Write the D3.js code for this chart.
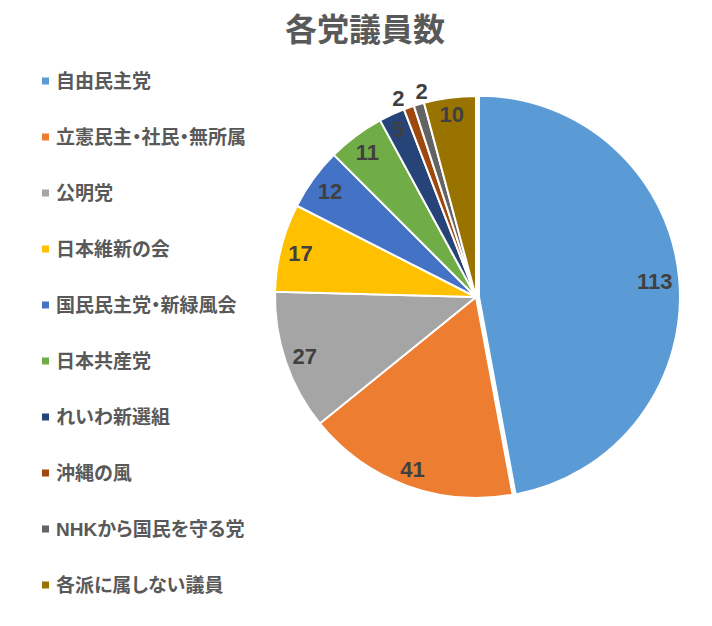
<!DOCTYPE html>
<html>
<head>
<meta charset="utf-8">
<script src="https://cdn.jsdelivr.net/npm/d3@7/dist/d3.min.js"></script>
<style>
  html, body { margin: 0; padding: 0; background: #fff; }
  svg { display: block; }
  .jp { font-family: "Liberation Sans", "Noto Sans CJK JP", sans-serif; font-weight: bold; font-feature-settings: "palt"; }
</style>
</head>
<body>
<svg id="chart" width="712" height="626"></svg>
<script>
const title = "各党議員数";
const parties = ["自由民主党", "立憲民主・社民・無所属", "公明党", "日本維新の会", "国民民主党・新緑風会",
                 "日本共産党", "れいわ新選組", "沖縄の風", "NHKから国民を守る党", "各派に属しない議員"];
const seats = [113, 41, 27, 17, 12, 11, 5, 2, 2, 10];
const colors = ["#5B9BD5", "#ED7D31", "#A5A5A5", "#FFC000", "#4472C4",
                "#70AD47", "#264478", "#9E480E", "#636363", "#997300"];
const outsideLabels = [false, false, false, false, false, false, false, true, true, false];
const explode = [3, 0, 0, 0, 0, 0, 0, 0, 0, 0];

const svg = d3.select("#chart");

// Title
svg.append("text")
  .attr("class", "jp")
  .attr("x", 365).attr("y", 30)
  .attr("text-anchor", "middle")
  .attr("dominant-baseline", "central")
  .attr("font-size", 32)
  .attr("fill", "#595959")
  .text(title);

// Legend
const legendY = d3.scalePoint().domain(d3.range(parties.length)).range([81, 585]);
const lg = svg.append("g");
const items = lg.selectAll("g").data(parties).join("g")
  .attr("transform", (d, i) => `translate(0,${legendY(i)})`);
items.append("rect")
  .attr("x", 42).attr("y", -3.5).attr("width", 7).attr("height", 7)
  .attr("fill", (d, i) => colors[i]);
items.append("text")
  .attr("class", "jp")
  .attr("x", 56).attr("y", 0)
  .attr("dominant-baseline", "central")
  .attr("font-size", 19)
  .attr("fill", "#595959")
  .text(d => d);

// Pie
const cx = 476, cy = 297, r = 201;
const pie = d3.pie().sort(null).value(d => d).startAngle(0).endAngle(2 * Math.PI);
const arcs = pie(seats);
const arc = d3.arc().innerRadius(0).outerRadius(r);
const g = svg.append("g").attr("transform", `translate(${cx},${cy})`);

arcs.forEach((a, i) => {
  const mid = (a.startAngle + a.endAngle) / 2;
  const ox = Math.sin(mid) * explode[i], oy = -Math.cos(mid) * explode[i];
  g.append("path")
    .attr("transform", `translate(${ox},${oy})`)
    .attr("d", arc(a))
    .attr("fill", colors[i])
    .attr("stroke", "#fff")
    .attr("stroke-width", 2)
    .attr("stroke-linejoin", "round");
});

// Labels
const placed = [];
arcs.forEach((a, i) => {
  const mid = (a.startAngle + a.endAngle) / 2;
  const s = Math.sin(mid), c = Math.cos(mid);
  const t = g.append("text")
    .attr("font-family", "'Liberation Sans', Arial, sans-serif")
    .attr("font-weight", "bold")
    .attr("font-size", 22)
    .attr("fill", "#404040")
    .attr("text-anchor", "middle")
    .attr("dominant-baseline", "central")
    .text(seats[i]);
  const w = t.node().getComputedTextLength();
  const h = 16;
  const extent = Math.abs(s) * w / 2 + Math.abs(c) * h / 2;
  const d = outsideLabels[i] ? r + 3 + extent : r - 6 - extent + explode[i];
  placed.push({ t, x: s * d, y: -c * d + 1, w, outside: outsideLabels[i] });
});

// spread neighbouring outside labels that collide
const outs = placed.filter(p => p.outside);
for (let k = 1; k < outs.length; k++) {
  const p = outs[k - 1], q = outs[k];
  const minGap = (p.w + q.w) / 2 + 11;
  const dx = q.x - p.x;
  if (dx < minGap) {
    const push = (minGap - dx) / 2;
    p.x -= push; q.x += push;
    p.y += 2; q.y -= 2;
  }
}
placed.forEach(p => p.t.attr("x", p.x).attr("y", p.y));
</script>
</body>
</html>
